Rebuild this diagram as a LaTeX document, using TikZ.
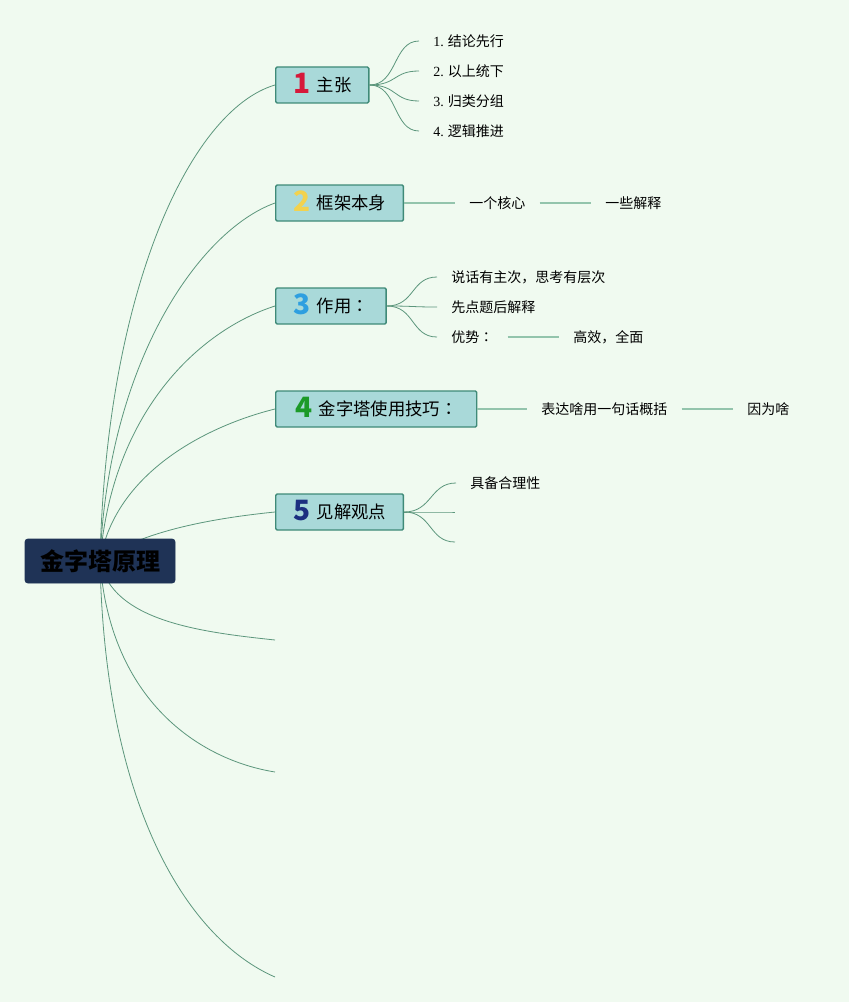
\documentclass[tikz,border=0pt]{standalone}
\usepackage{fontspec}
\setmainfont{Noto Sans CJK SC}
\newfontfamily\serifnum{Liberation Serif}
\newfontfamily\tcfont{Noto Sans CJK TC}
\usetikzlibrary{positioning,backgrounds}

\definecolor{bgc}{RGB}{240,250,240}
\definecolor{rootc}{RGB}{31,51,86}
\definecolor{boxfill}{RGB}{169,217,217}
\definecolor{boxline}{RGB}{63,138,120}
\definecolor{linkc}{RGB}{92,150,124}
\definecolor{barc}{RGB}{147,196,172}
\definecolor{numA}{RGB}{214,24,58}
\definecolor{numB}{RGB}{242,210,78}
\definecolor{numC}{RGB}{46,159,224}
\definecolor{numD}{RGB}{28,154,40}
\definecolor{numE}{RGB}{27,47,128}
\newcommand{\topicnum}[2]{\raisebox{-1.5pt}{\color{#1}\fontsize{21}{21}\selectfont\bfseries #2}\hspace{5pt}}
\newcommand{\wcolon}{{\tcfont ：}}

\begin{document}
\begin{tikzpicture}[
  x=0.75pt, y=-0.75pt,
  root/.style={draw=rootc, fill=rootc, rounded corners=2pt, minimum width=112.5pt, minimum height=33pt, font=\fontsize{18}{20}\selectfont\bfseries, text=black},
  topic/.style={draw=boxline, fill=boxfill, line width=1.1pt, rounded corners=1pt, minimum height=27pt, text height=12pt, text depth=2.4pt, inner xsep=13pt, inner ysep=0pt, anchor=west, font=\fontsize{13}{15}\selectfont},
  sub/.style={anchor=west, inner xsep=10.5pt, inner ysep=2pt, font=\fontsize{10.5}{12}\selectfont},
  link/.style={draw=linkc, line width=0.6pt},
  bar/.style={draw=barc, line width=1.2pt}
]
  \node[root] (root) at (100,561) {金字塔原理};

  \node[topic] (b1) at (275,85) {\topicnum{numA}{1}主张};
  \node[topic] (b2) at (275,203) {\topicnum{numB}{2}框架本身};
  \node[topic] (b3) at (275,306) {\topicnum{numC}{3}作用\wcolon};
  \node[topic, minimum width=150.75pt] (b4) at (275,409) {\topicnum{numD}{4}金字塔使用技巧\wcolon};
  \node[topic] (b5) at (275,512) {\topicnum{numE}{5}见解观点};

  \coordinate (e1) at (275,640);
  \coordinate (e2) at (275,772);
  \coordinate (e3) at (275,977);

  \node[sub] (s11) at (419,41) {{\serifnum 1.} 结论先行};
  \node[sub] (s12) at (419,71) {{\serifnum 2.} 以上统下};
  \node[sub] (s13) at (419,101) {{\serifnum 3.} 归类分组};
  \node[sub] (s14) at (419,131) {{\serifnum 4.} 逻辑推进};

  \node[sub] (s21) at (455,203) {一个核心};
  \node[sub] (s22) at (591,203) {一些解释};

  \node[sub] (s31) at (437,277) {说话有主次，思考有层次};
  \node[sub] (s32) at (437,307) {先点题后解释};
  \node[sub] (s33) at (437,337) {优势\wcolon};
  \node[sub] (s34) at (559,337) {高效，全面};

  \node[sub] (s41) at (527,409) {表达啥用一句话概括};
  \node[sub] (s42) at (733,409) {因为啥};

  \node[sub] (s51) at (456,483) {具备合理性};
  \coordinate (e52) at (455,512);
  \coordinate (e53) at (455,542);

  \begin{scope}[on background layer]
    \fill[bgc] (0,0) rectangle (849,1002);
    \draw[link] (root.center) .. controls +(6,-270) and +(-85,25) .. (b1.west);
    \draw[link] (root.center) .. controls +(8,-200) and +(-75,27) .. (b2.west);
    \draw[link] (root.center) .. controls +(12,-150) and +(-75,24) .. (b3.west);
    \draw[link] (root.center) .. controls +(15,-90) and +(-65,16) .. (b4.west);
    \draw[link] (root.center) .. controls +(40,-30) and +(-60,6) .. (b5.west);
    \draw[link] (root.center) .. controls +(12,60) and +(-75,-8) .. (e1);
    \draw[link] (root.center) .. controls +(10,140) and +(-75,-12) .. (e2);
    \draw[link] (root.center) .. controls +(5,250) and +(-85,-37) .. (e3);
  \end{scope}

  \foreach \s in {s11,s12,s13,s14}
    \draw[link] (b1.east) .. controls +(28,0) and +(-26,0) .. (\s.west);
  \draw[bar] (b2.east) -- (s21.west);
  \draw[bar] (s21.east) -- (s22.west);
  \foreach \s in {s31,s32,s33}
    \draw[link] (b3.east) .. controls +(28,0) and +(-26,0) .. (\s.west);
  \draw[bar] (s33.east) -- (s34.west);
  \draw[bar] (b4.east) -- (s41.west);
  \draw[bar] (s41.east) -- (s42.west);
  \draw[link] (b5.east) .. controls +(28,0) and +(-26,0) .. (s51.west);
  \draw[link] (b5.east) .. controls +(28,0) and +(-26,0) .. (e52);
  \draw[link] (b5.east) .. controls +(28,0) and +(-26,0) .. (e53);
\end{tikzpicture}
\end{document}
